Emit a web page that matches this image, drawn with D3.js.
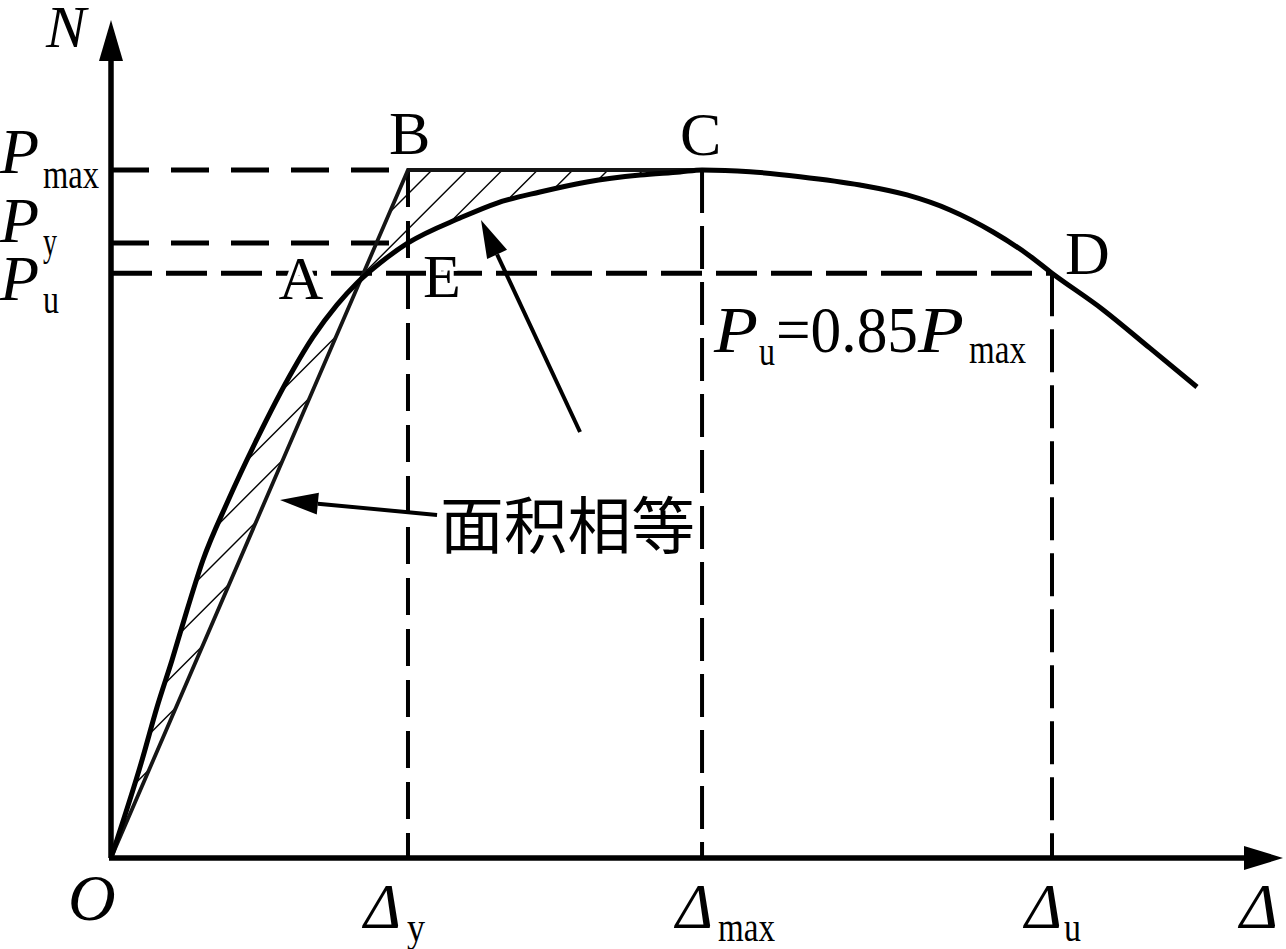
<!DOCTYPE html>
<html><head><meta charset="utf-8">
<script src="https://cdn.jsdelivr.net/npm/d3@7"></script>
<style>html,body{margin:0;padding:0;background:#fff;}svg{display:block;}</style>
</head><body>
<script>
// ---- data (displacement in % of axis length, load in % of Pmax) ----
const disp = [0, 2.65, 3.93, 5.21, 6.49, 7.85, 9.90, 12.29, 15.53, 17.24, 19.28, 20.99, 22.95, 25.34, 29.78, 32.94, 36.60, 40.61, 45.14, 48.55, 50.43, 54.52, 58.79, 63.91, 67.92, 71.59, 75.26, 78.16, 80.29, 84.64, 88.65, 92.66];
const load = [0, 14.24, 21.95, 28.78, 36.05, 43.31, 51.60, 60.32, 70.93, 75.73, 80.40, 83.58, 86.48, 89.39, 93.02, 95.20, 96.80, 98.26, 99.27, 99.71, 100, 99.75, 99.03, 97.82, 96.37, 94.19, 90.99, 87.80, 85.0, 79.70, 74.10, 68.46];
const keyDisp = {dy: 25.34, dmax: 50.43, du: 80.29};
const keyLoad = {pmax: 100, py: 89.39, pu: 85};
const xLabels = [{t: "Δ", s: "y", v: 25.34}, {t: "Δ", s: "max", v: 50.43}, {t: "Δ", s: "u", v: 80.29}];
const yLabels = [{s: "max", v: 100}, {s: "y", v: 89.39}, {s: "u", v: 85}];
const arrowsData = [
  {from: [40.02, 61.92], to: [31.57, 92.73]},
  {from: [27.82, 49.85], to: [14.42, 52.03]}
];

const W = 1286, H = 949;
const x = d3.scaleLinear().domain([0, 100]).range([111, 1283]);
const y = d3.scaleLinear().domain([0, 121.8]).range([858, 20]);
const SERIF = "'Liberation Serif','Times New Roman',serif";

const svg = d3.select("body").append("svg").attr("width", W).attr("height", H);
const pts = disp.map((d, i) => [d, load[i]]);
const line = d3.line().x(d => x(d[0])).y(d => y(d[1])).curve(d3.curveMonotoneX);

// ---- hatch region: curve O->C, then to B, close to O ----
const iC = disp.indexOf(keyDisp.dmax);
const subCurve = line(pts.slice(0, iC + 1));
const clipD = subCurve + `L${x(keyDisp.dy)},${y(keyLoad.pmax)}Z`;
svg.append("clipPath").attr("id", "hclip").append("path").attr("d", clipD);
const hatch = svg.append("g").attr("clip-path", "url(#hclip)");
for (let c = 602 - 35.2 * 2; c < 1000; c += 35.2) {
  hatch.append("line").attr("x1", c - 900).attr("y1", 900).attr("x2", c).attr("y2", 0)
    .attr("stroke", "#000").attr("stroke-width", 1.4);
}

// ---- dashed reference lines ----
const dashG = svg.append("g").attr("stroke", "#000").attr("fill", "none");
const dashLines = [
  {x1: 0, y1: keyLoad.pmax, x2: keyDisp.dy, y2: keyLoad.pmax, dash: "38,22", w: 5},
  {x1: 0, y1: keyLoad.py, x2: keyDisp.dy, y2: keyLoad.py, dash: "38,22", w: 5},
  {x1: 0, y1: keyLoad.pu, x2: keyDisp.du, y2: keyLoad.pu, dash: "41,14", w: 5},
  {x1: keyDisp.dy, y1: keyLoad.pmax, x2: keyDisp.dy, y2: 0, dash: "37,14", w: 4},
  {x1: keyDisp.dmax, y1: keyLoad.pmax, x2: keyDisp.dmax, y2: 0, dash: "43,13", w: 4},
  {x1: keyDisp.du, y1: keyLoad.pu, x2: keyDisp.du, y2: 0, dash: "43,13", w: 4}
];
dashLines.forEach(d => {
  dashG.append("line").attr("x1", x(d.x1)).attr("y1", y(d.y1)).attr("x2", x(d.x2)).attr("y2", y(d.y2))
    .attr("stroke-dasharray", d.dash).attr("stroke-width", d.w);
});

// ---- bilinear O-B-C ----
svg.append("path")
  .attr("d", d3.line().x(d => x(d[0])).y(d => y(d[1]))([[0, 0], [keyDisp.dy, keyLoad.pmax], [keyDisp.dmax, keyLoad.pmax]]))
  .attr("fill", "none").attr("stroke", "#151515").attr("stroke-width", 3.8).attr("stroke-linejoin", "miter");

// ---- skeleton curve ----
svg.append("path").attr("d", line(pts)).attr("fill", "none").attr("stroke", "#000").attr("stroke-width", 5);

// ---- axes ----
svg.append("line").attr("x1", x(0)).attr("y1", y(0)).attr("x2", x(0)).attr("y2", y(121.8) + 38)
  .attr("stroke", "#000").attr("stroke-width", 5.5);
svg.append("line").attr("x1", x(0) - 2).attr("y1", y(0)).attr("x2", x(100) - 36).attr("y2", y(0))
  .attr("stroke", "#000").attr("stroke-width", 5.5);
svg.append("path").attr("d", `M${x(0)},${y(121.8)} L${x(0) - 12},${y(121.8) + 41} L${x(0) + 12},${y(121.8) + 41} Z`).attr("fill", "#000");
svg.append("path").attr("d", `M${x(100)},${y(0)} L${x(100) - 39},${y(0) - 12} L${x(100) - 39},${y(0) + 12} Z`).attr("fill", "#000");

// ---- annotation arrows ----
arrowsData.forEach(a => {
  const x0 = x(a.from[0]), y0 = y(a.from[1]), x1 = x(a.to[0]), y1 = y(a.to[1]);
  const ang = Math.atan2(y1 - y0, x1 - x0);
  const L = 38, hw = 11;
  const bx = x1 - L * Math.cos(ang), by = y1 - L * Math.sin(ang);
  svg.append("line").attr("x1", x0).attr("y1", y0).attr("x2", bx).attr("y2", by)
    .attr("stroke", "#000").attr("stroke-width", 4);
  const px = -Math.sin(ang) * hw, py = Math.cos(ang) * hw;
  svg.append("path").attr("d", `M${x1},${y1} L${bx + px},${by + py} L${bx - px},${by - py} Z`).attr("fill", "#000");
});

// ---- text ----
function txt(str, xx, yy, size, opts = {}) {
  const t = svg.append("text").attr("x", xx).attr("y", yy).attr("font-family", opts.family || SERIF)
    .attr("font-size", size).attr("fill", "#000").text(str);
  if (opts.italic) t.attr("font-style", "italic");
  if (opts.len) t.attr("textLength", opts.len).attr("lengthAdjust", "spacingAndGlyphs");
  if (opts.halo) t.attr("stroke", "#fff").attr("stroke-width", 8).attr("paint-order", "stroke").attr("stroke-linejoin", "round");
  return t;
}
// axis names
txt("N", 46, 47, 60, {italic: true});
txt("O", 68, 920, 66, {italic: true});
txt("Δ", 1240, 928, 64, {italic: true, len: 38});
// y labels
const yOff = {max: [3, 18, 56], y: [-1, 12, 14], u: [27, 40, 16]};
yLabels.forEach(l => {
  const yy = y(l.v);
  const o = yOff[l.s];
  txt("P", 0, yy + o[0], 64, {italic: true});
  txt(l.s, 43, yy + o[1], 40, {len: o[2]});
});
// x labels
const xSub = {y: [-44, -1, 18], max: [-26, 16, 57], u: [-27, 12, 17]};
xLabels.forEach(l => {
  const xx = x(l.v);
  const o = xSub[l.s];
  txt(l.t, xx + o[0], 928, 64, {italic: true, len: 37});
  txt(l.s, xx + o[1], 941, 40, {len: o[2]});
});
// point letters
txt("B", x(keyDisp.dy) - 19, y(keyLoad.pmax) - 16, 62);
txt("C", x(keyDisp.dmax) - 22, y(keyLoad.pmax) - 15, 62);
txt("D", x(keyDisp.du) + 13, y(keyLoad.pu) + 1, 62);
txt("A", x(14.3), y(keyLoad.pu) + 26, 62, {halo: true});
txt("E", x(keyDisp.dy) + 15, y(keyLoad.pu) + 24, 62, {halo: true});
// formula
txt("P", 714, 352, 66, {italic: true, len: 44});
txt("u", 759, 365, 40, {len: 16});
txt("=0.85", 776, 352, 66, {len: 142});
txt("P", 918, 352, 66, {italic: true, len: 46});
txt("max", 969, 363, 40, {len: 57});
// chinese annotation
svg.append("text").attr("x", 440).attr("y", 522).attr("dominant-baseline", "central")
  .attr("font-family", "'Noto Sans CJK SC',sans-serif").attr("font-size", 62)
  .attr("textLength", 255).attr("lengthAdjust", "spacingAndGlyphs").attr("fill", "#000").text("面积相等");
</script>
</body></html>
